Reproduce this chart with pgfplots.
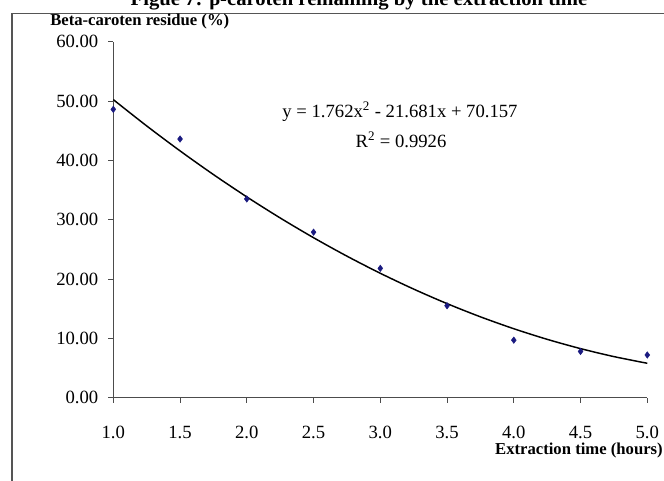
\documentclass[border=0pt]{standalone}
\usepackage{pgfplots}
\pgfplotsset{compat=1.18}
\usepackage{fontspec}
\setmainfont{Liberation Serif}
\definecolor{ptblue}{HTML}{1A1A80}
\definecolor{framegray}{HTML}{555555}
\begin{document}
\begin{tikzpicture}
\useasboundingbox (0,0) rectangle (498pt,-360.75pt);
\clip (0,0) rectangle (498pt,-360.75pt);
\begin{axis}[
  at={(84.975pt,-298.275pt)}, anchor=south west,
  scale only axis, width=400.5pt, height=267pt,
  xmin=1, xmax=5, ymin=0, ymax=60,
  axis lines*=left,
  axis line style={black!70, line width=0.6pt},
  tick style={black!70, line width=0.6pt},
  tick align=outside, major tick length=3.75pt,
  xtick={1,1.5,...,5}, ytick={0,10,...,60},
  /pgf/number format/assume math mode=true,
  xticklabel style={/pgf/number format/.cd, fixed, fixed zerofill, precision=1},
  yticklabel style={/pgf/number format/.cd, fixed, fixed zerofill, precision=2},
  ticklabel style={font=\fontsize{14}{16}\selectfont},
  xticklabel shift=14pt,
  yticklabel shift=4pt,
  clip=false,
]
\addplot[black, line width=1.1pt, smooth] coordinates {
(1.00,50.238) (1.25,45.809) (1.50,41.600) (1.75,37.611) (2.00,33.843)
(2.25,30.295) (2.50,26.967) (2.75,23.859) (3.00,20.972) (3.25,18.305)
(3.50,15.858) (3.75,13.631) (4.00,11.625) (4.25,9.839) (4.50,8.273)
(4.75,6.927) (5.00,5.802)};
\addplot[only marks, mark=diamond*, mark size=2.4pt, ptblue] coordinates {
(1.0,48.6) (1.5,43.6) (2.0,33.5) (2.5,27.9) (3.0,21.8)
(3.5,15.5) (4.0,9.7) (4.5,7.8) (5.0,7.2)};
\end{axis}
\begin{scope}[x=0.75pt,y=-0.75pt]
\draw[framegray, line width=1pt] (12,490) -- (12,13.3) -- (670,13.3);
\node[anchor=base, font=\fontsize{15.5}{18}\selectfont\bfseries, inner sep=0pt] at (359,5.5) {Figue 7: β-caroten remaining by the extraction time};
\node[anchor=west, font=\fontsize{12.5}{14}\selectfont\bfseries, inner sep=0pt] at (50,21) {Beta-caroten residue (\%)};
\node[anchor=east, font=\fontsize{12.5}{14}\selectfont\bfseries, inner sep=0pt] at (663,450.7) {Extraction time (hours)};
\node[font=\fontsize{14}{16}\selectfont, inner sep=0pt] at (400,111.7) {y = 1.762x\textsuperscript{2} - 21.681x + 70.157};
\node[font=\fontsize{14}{16}\selectfont, inner sep=0pt] at (401,140) {R\textsuperscript{2} = 0.9926};
\end{scope}
\end{tikzpicture}
\end{document}
